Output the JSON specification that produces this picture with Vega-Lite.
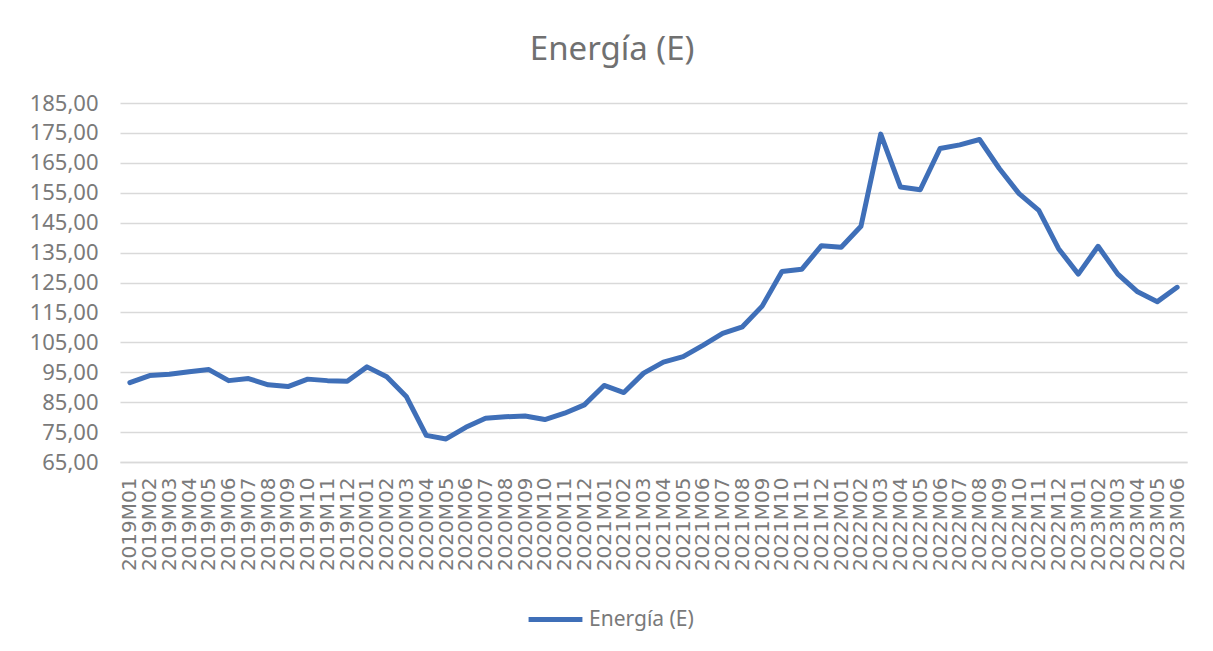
{
  "$schema": "https://vega.github.io/schema/vega-lite/v6.json",
  "autosize": {"type": "none"},
  "width": 1067,
  "height": 359,
  "padding": {"left": 120, "top": 103, "right": 26, "bottom": 189},
  "background": "#ffffff",
  "config": {
    "locale": {"number": {"decimal": ",", "thousands": ".", "grouping": [3], "currency": ["", " €"]}},
    "view": {"stroke": null},
    "title": {"font": "Noto Sans", "fontSize": 33, "fontWeight": "normal", "color": "#707070", "anchor": "middle", "frame": "bounds", "offset": 25, "dx": 4}
  },
  "title": "Energía (E)",
  "data": {"values": [
    {"mes": "2019M01", "valor": 91.5, "serie": "Energía (E)"},
    {"mes": "2019M02", "valor": 93.9, "serie": "Energía (E)"},
    {"mes": "2019M03", "valor": 94.3, "serie": "Energía (E)"},
    {"mes": "2019M04", "valor": 95.2, "serie": "Energía (E)"},
    {"mes": "2019M05", "valor": 95.9, "serie": "Energía (E)"},
    {"mes": "2019M06", "valor": 92.2, "serie": "Energía (E)"},
    {"mes": "2019M07", "valor": 92.9, "serie": "Energía (E)"},
    {"mes": "2019M08", "valor": 90.8, "serie": "Energía (E)"},
    {"mes": "2019M09", "valor": 90.2, "serie": "Energía (E)"},
    {"mes": "2019M10", "valor": 92.7, "serie": "Energía (E)"},
    {"mes": "2019M11", "valor": 92.2, "serie": "Energía (E)"},
    {"mes": "2019M12", "valor": 92.0, "serie": "Energía (E)"},
    {"mes": "2020M01", "valor": 96.8, "serie": "Energía (E)"},
    {"mes": "2020M02", "valor": 93.5, "serie": "Energía (E)"},
    {"mes": "2020M03", "valor": 86.8, "serie": "Energía (E)"},
    {"mes": "2020M04", "valor": 73.9, "serie": "Energía (E)"},
    {"mes": "2020M05", "valor": 72.7, "serie": "Energía (E)"},
    {"mes": "2020M06", "valor": 76.6, "serie": "Energía (E)"},
    {"mes": "2020M07", "valor": 79.6, "serie": "Energía (E)"},
    {"mes": "2020M08", "valor": 80.1, "serie": "Energía (E)"},
    {"mes": "2020M09", "valor": 80.4, "serie": "Energía (E)"},
    {"mes": "2020M10", "valor": 79.2, "serie": "Energía (E)"},
    {"mes": "2020M11", "valor": 81.3, "serie": "Energía (E)"},
    {"mes": "2020M12", "valor": 84.1, "serie": "Energía (E)"},
    {"mes": "2021M01", "valor": 90.6, "serie": "Energía (E)"},
    {"mes": "2021M02", "valor": 88.2, "serie": "Energía (E)"},
    {"mes": "2021M03", "valor": 94.7, "serie": "Energía (E)"},
    {"mes": "2021M04", "valor": 98.4, "serie": "Energía (E)"},
    {"mes": "2021M05", "valor": 100.2, "serie": "Energía (E)"},
    {"mes": "2021M06", "valor": 104.0, "serie": "Energía (E)"},
    {"mes": "2021M07", "valor": 108.0, "serie": "Energía (E)"},
    {"mes": "2021M08", "valor": 110.2, "serie": "Energía (E)"},
    {"mes": "2021M09", "valor": 117.1, "serie": "Energía (E)"},
    {"mes": "2021M10", "valor": 128.7, "serie": "Energía (E)"},
    {"mes": "2021M11", "valor": 129.4, "serie": "Energía (E)"},
    {"mes": "2021M12", "valor": 137.3, "serie": "Energía (E)"},
    {"mes": "2022M01", "valor": 136.8, "serie": "Energía (E)"},
    {"mes": "2022M02", "valor": 143.8, "serie": "Energía (E)"},
    {"mes": "2022M03", "valor": 174.6, "serie": "Energía (E)"},
    {"mes": "2022M04", "valor": 156.9, "serie": "Energía (E)"},
    {"mes": "2022M05", "valor": 156.0, "serie": "Energía (E)"},
    {"mes": "2022M06", "valor": 169.8, "serie": "Energía (E)"},
    {"mes": "2022M07", "valor": 171.0, "serie": "Energía (E)"},
    {"mes": "2022M08", "valor": 172.8, "serie": "Energía (E)"},
    {"mes": "2022M09", "valor": 163.1, "serie": "Energía (E)"},
    {"mes": "2022M10", "valor": 154.7, "serie": "Energía (E)"},
    {"mes": "2022M11", "valor": 149.1, "serie": "Energía (E)"},
    {"mes": "2022M12", "valor": 136.3, "serie": "Energía (E)"},
    {"mes": "2023M01", "valor": 127.8, "serie": "Energía (E)"},
    {"mes": "2023M02", "valor": 137.1, "serie": "Energía (E)"},
    {"mes": "2023M03", "valor": 127.8, "serie": "Energía (E)"},
    {"mes": "2023M04", "valor": 121.9, "serie": "Energía (E)"},
    {"mes": "2023M05", "valor": 118.6, "serie": "Energía (E)"},
    {"mes": "2023M06", "valor": 123.4, "serie": "Energía (E)"}
  ]},
  "mark": {"type": "line", "strokeWidth": 5, "strokeJoin": "round", "strokeCap": "round"},
  "encoding": {
    "x": {
      "field": "mes", "type": "ordinal", "sort": null,
      "scale": {"type": "point", "padding": 0.5},
      "axis": {
        "title": null, "labelAngle": -90, "labelFont": "DejaVu Sans", "labelFontSize": 20,
        "labelColor": "#7a7a7a", "ticks": false, "domain": true, "domainColor": "#d9d9d9", "domainWidth": 1.5,
        "labelPadding": 15, "grid": false, "labelOverlap": false
      }
    },
    "y": {
      "field": "valor", "type": "quantitative",
      "scale": {"domain": [65, 185], "nice": false, "zero": false},
      "axis": {
        "title": null, "values": [65, 75, 85, 95, 105, 115, 125, 135, 145, 155, 165, 175, 185],
        "format": ".2f", "labelFont": "Noto Sans", "labelFontSize": 22, "labelColor": "#7a7a7a",
        "ticks": false, "domain": false, "gridColor": "#d9d9d9", "gridWidth": 1.5, "labelPadding": 22
      }
    },
    "color": {
      "field": "serie", "type": "nominal",
      "scale": {"range": ["#3f6fb8"]},
      "legend": {
        "title": null, "orient": "none", "legendX": 406, "legendY": 487, "direction": "horizontal", "symbolType": "stroke",
        "symbolSize": 2900, "symbolStrokeWidth": 5, "labelFont": "Noto Sans", "labelFontSize": 21,
        "labelColor": "#7a7a7a"
      }
    }
  }
}
